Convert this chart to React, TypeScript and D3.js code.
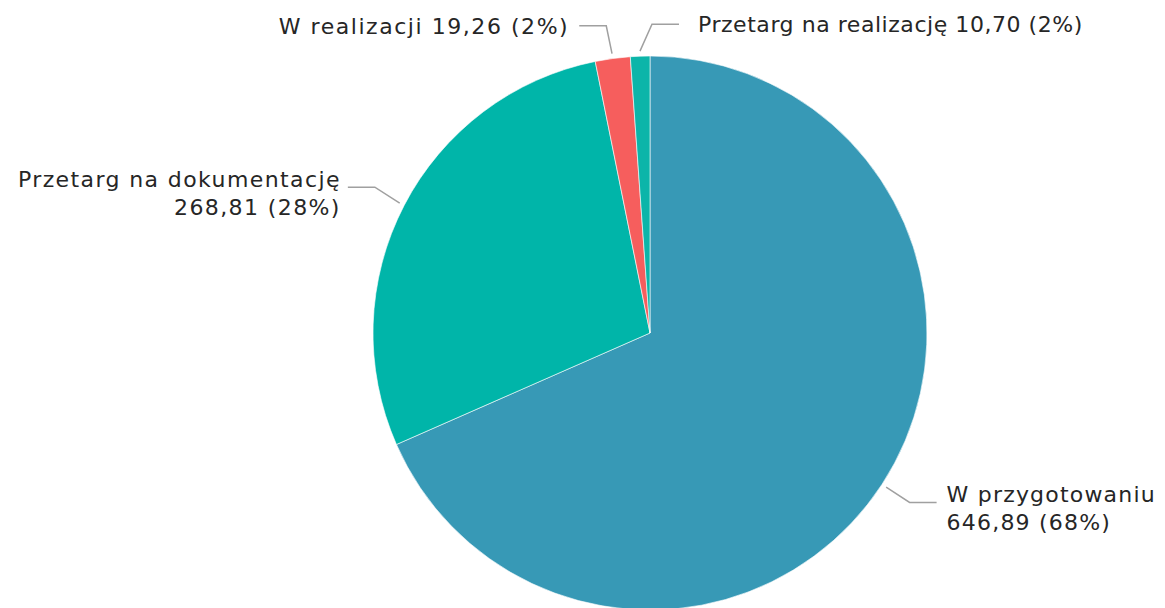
import React from "react";
import * as d3 from "d3";

const categories = ["W przygotowaniu", "Przetarg na dokumentację", "W realizacji", "Przetarg na realizację"];
const values = [646.89, 268.81, 19.26, 10.7];
const valueLabels = ["646,89", "268,81", "19,26", "10,70"];
const percentLabels = ["68%", "28%", "2%", "2%"];
const colors = ["#3799b6", "#00b5a9", "#f65e5d", "#0cb5a9"];

const W = 1165;
const H = 608;
const cx = 650;
const cy = 333;
const R = 277;
const FONT = "DejaVu Sans, Verdana, sans-serif";

export default function App() {
  const pie = d3.pie<number>().sort(null).value((d) => d);
  const arcs = pie(values);
  const arcGen = d3.arc<d3.PieArcDatum<number>>().innerRadius(0).outerRadius(R);

  const pt = (a: number, r: number) => [Math.sin(a) * r, -Math.cos(a) * r];

  // label layout: per-label elbow tweaks (to separate crowded labels), two-line flags
  const twoLine = [true, true, false, false];
  const elbowShift = [[0, 0], [0, -3], [-2, 0], [13, 1]];
  const textGap = [10, 7, 10, 19];
  const spacing = [1.2, 1.4, 1.55, 0.55];

  return (
    <svg width={W} height={H} style={{ position: "absolute", left: 0, top: 0, background: "#fff" }}>
      <g transform={`translate(${cx},${cy})`}>
        {arcs.map((a, i) => (
          <path key={i} d={arcGen(a) || ""} fill={colors[i]} stroke="#fff" strokeWidth={0.6} />
        ))}
        {arcs.map((a, i) => {
          const mid = (a.startAngle + a.endAngle) / 2;
          const [x1, y1] = pt(mid, 282);
          const [ex0, ey0] = pt(mid, 310);
          const ex = ex0 + elbowShift[i][0];
          const ey = ey0 + elbowShift[i][1];
          const right = i === 0 || i === 3;
          const hx = ex + (right ? 27 : -27);
          const tx = hx + (right ? textGap[i] : -textGap[i]);
          const anchor = right ? "start" : "end";
          const l1 = twoLine[i] ? categories[i] : `${categories[i]} ${valueLabels[i]} (${percentLabels[i]})`;
          const l2 = `${valueLabels[i]} (${percentLabels[i]})`;
          return (
            <g key={"l" + i}>
              <polyline
                points={`${x1},${y1} ${ex},${ey} ${hx},${ey}`}
                fill="none"
                stroke="#a0a0a0"
                strokeWidth={1.5}
              />
              {twoLine[i] ? (
                <text x={tx} y={ey} fontFamily={FONT} fontSize={22} letterSpacing={spacing[i]} fill="#262626" textAnchor={anchor}>
                  <tspan x={tx} dy={0}>{l1}</tspan>
                  <tspan x={tx} dy={28}>{l2}</tspan>
                </text>
              ) : (
                <text x={tx} y={ey + 8} fontFamily={FONT} fontSize={22} letterSpacing={spacing[i]} fill="#262626" textAnchor={anchor}>
                  {l1}
                </text>
              )}
            </g>
          );
        })}
      </g>
    </svg>
  );
}
